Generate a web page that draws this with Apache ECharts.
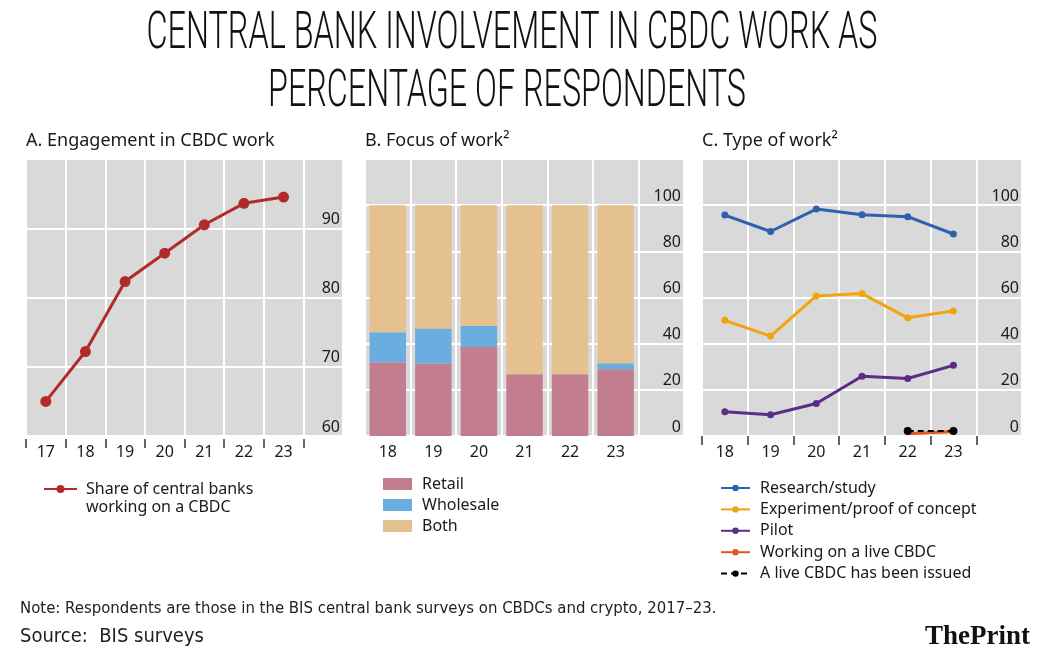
<!DOCTYPE html>
<html>
<head>
<meta charset="utf-8">
<script src="https://cdn.jsdelivr.net/npm/echarts@6/dist/echarts.min.js"></script>
<style>html,body{margin:0;padding:0;background:#fff;}#c{width:1046px;height:667px;}</style>
</head>
<body>
<div id="c"></div>
<script>
// ---- data ----
const titleLines = ['CENTRAL BANK INVOLVEMENT IN CBDC WORK AS', 'PERCENTAGE OF RESPONDENTS'];
const panelTitles = ['A. Engagement in CBDC work', 'B. Focus of work\u00b2', 'C. Type of work\u00b2'];
const yearsA = ['17', '18', '19', '20', '21', '22', '23'];
const engagement = [65, 72.2, 82.3, 86.4, 90.5, 93.6, 94.5];
const yearsBC = ['18', '19', '20', '21', '22', '23'];
const retail = [32, 31.4, 38.6, 26.8, 26.8, 28.9];
const wholesale = [13, 15.2, 9.2, 0, 0, 2.6];
const both = [55, 53.4, 52.2, 73.2, 73.2, 68.5];
const research = [95.7, 88.6, 98.3, 95.8, 95.0, 87.5];
const experiment = [50.1, 43.3, 60.7, 61.7, 51.2, 54.2];
const pilot = [10.5, 9.2, 14.1, 25.9, 24.9, 30.6];
const workingLive = [null, null, null, null, 1.0, 2.0];
const liveIssued = [null, null, null, null, 2.2, 2.2];
const noteText = 'Note: Respondents are those in the BIS central bank surveys on CBDCs and crypto, 2017\u201323.';
const sourceText = 'Source:  BIS surveys';

// ---- style ----
const GREY = '#d9d9d9';
const TXT = '#1a1a1a';
const FONT = '"Noto Sans", "Open Sans", sans-serif';
const NARROW = '"Liberation Sans Narrow", "DejaVu Sans Condensed", sans-serif';

function fitScale(text, font, target) {
  const ctx = document.createElement('canvas').getContext('2d');
  ctx.font = font;
  return target / ctx.measureText(text).width;
}
const titleFont = '300 52px Roboto';
const tScale1 = fitScale(titleLines[0], titleFont, 731);
const tScale2 = fitScale(titleLines[1], titleFont, 478);

const bandA = 39.625, bandB = 45.57, bandC = 45.714;
const gTop = 159, gHeight = 277;

function bgGrid(left, width) {
  return { left: left, top: gTop, width: width, height: gHeight, show: true, backgroundColor: GREY, borderWidth: 0 };
}
function plainGrid(left, width) {
  return { left: left, top: gTop, width: width, height: gHeight, show: false };
}
const whiteSplit = { show: true, lineStyle: { color: '#ffffff', width: 2 } };

function valueAxis(gridIndex, min, max, interval, showLabels) {
  return {
    type: 'value', gridIndex: gridIndex, min: min, max: max, interval: interval,
    position: 'right',
    axisLine: { show: false }, axisTick: { show: false },
    splitLine: showLabels ? whiteSplit : { show: false },
    axisLabel: showLabels ? {
      show: true, inside: true, margin: 3, verticalAlign: 'bottom', padding: [0, 0, 1, 0],
      fontSize: 16, fontFamily: FONT, color: TXT,
      formatter: function (v) { return v >= max ? '' : String(v); }
    } : { show: false }
  };
}

const option = {
  animation: false,
  backgroundColor: '#ffffff',
  grid: [
    bgGrid(26, 8 * bandA),      // 0 A
    plainGrid(26, 7 * bandA),   // 1 A ticks
    bgGrid(365, 7 * bandB),     // 2 B
    bgGrid(702, 7 * bandC),     // 3 C
    plainGrid(702, 6 * bandC)   // 4 C ticks
  ],
  xAxis: [
    { type: 'category', gridIndex: 0, data: yearsA.concat(['']), axisLine: { show: false }, axisTick: { show: false }, axisLabel: { show: false }, splitLine: whiteSplit },
    { type: 'category', gridIndex: 1, data: yearsA, offset: 3, axisLine: { show: false },
      axisTick: { show: true, length: 9, lineStyle: { color: '#333', width: 1.5 } },
      axisLabel: { show: true, margin: 5, fontSize: 16, fontFamily: FONT, color: TXT }, splitLine: { show: false } },
    { type: 'category', gridIndex: 2, data: yearsBC.concat(['']), axisLine: { show: false }, axisTick: { show: false },
      axisLabel: { show: true, margin: 8, fontSize: 16, fontFamily: FONT, color: TXT }, splitLine: whiteSplit },
    { type: 'category', gridIndex: 3, data: yearsBC.concat(['']), axisLine: { show: false }, axisTick: { show: false }, axisLabel: { show: false }, splitLine: whiteSplit },
    { type: 'category', gridIndex: 4, data: yearsBC, offset: 3, axisLine: { show: false },
      axisTick: { show: true, length: 9, lineStyle: { color: '#333', width: 1.5 } },
      axisLabel: { show: true, margin: 5, fontSize: 16, fontFamily: FONT, color: TXT }, splitLine: { show: false } }
  ],
  yAxis: [
    valueAxis(0, 60, 100, 10, true),
    valueAxis(1, 60, 100, 10, false),
    valueAxis(2, 0, 120, 20, true),
    valueAxis(3, 0, 120, 20, true),
    valueAxis(4, 0, 120, 20, false)
  ],
  legend: [
    { orient: 'vertical', left: 43, top: 462, padding: 0, itemWidth: 33, itemHeight: 10,
      data: ['Share of central banks working on a CBDC'],
      formatter: function () { return '\nShare of central banks\nworking on a CBDC'; },
      textStyle: { fontSize: 16, fontFamily: FONT, color: TXT, lineHeight: 18, padding: [0, 0, 0, 4] } },
    { orient: 'vertical', left: 383, top: 474, padding: 0, itemWidth: 29, itemHeight: 12, itemGap: 1, icon: 'rect',
      data: ['Retail', 'Wholesale', 'Both'],
      textStyle: { fontSize: 16, fontFamily: FONT, color: TXT, lineHeight: 20, padding: [0, 0, 0, 5] } },
    { orient: 'vertical', left: 720, top: 478, padding: 0, itemWidth: 29, itemHeight: 8, itemGap: 1.4,
      data: ['Research/study', 'Experiment/proof of concept', 'Pilot', 'Working on a live CBDC', 'A live CBDC has been issued'],
      textStyle: { fontSize: 16, fontFamily: FONT, color: TXT, lineHeight: 20, padding: [0, 0, 0, 5] } }
  ],
  series: [
    { name: 'Share of central banks working on a CBDC', type: 'line', xAxisIndex: 0, yAxisIndex: 0, data: engagement,
      symbol: 'circle', symbolSize: 11, lineStyle: { color: '#b22b2b', width: 3 }, itemStyle: { color: '#b22b2b' } },
    { name: 'Retail', type: 'bar', stack: 'b', xAxisIndex: 2, yAxisIndex: 2, data: retail, barCategoryGap: '20%', itemStyle: { color: '#c27d8e' } },
    { name: 'Wholesale', type: 'bar', stack: 'b', xAxisIndex: 2, yAxisIndex: 2, data: wholesale, barCategoryGap: '20%', itemStyle: { color: '#6aaee0' } },
    { name: 'Both', type: 'bar', stack: 'b', xAxisIndex: 2, yAxisIndex: 2, data: both, barCategoryGap: '20%', itemStyle: { color: '#e4c18f' } },
    { name: 'Research/study', type: 'line', xAxisIndex: 3, yAxisIndex: 3, data: research,
      symbol: 'circle', symbolSize: 7, lineStyle: { color: '#2c62ad', width: 3 }, itemStyle: { color: '#2c62ad' } },
    { name: 'Experiment/proof of concept', type: 'line', xAxisIndex: 3, yAxisIndex: 3, data: experiment,
      symbol: 'circle', symbolSize: 7, lineStyle: { color: '#f2a40f', width: 3 }, itemStyle: { color: '#f2a40f' } },
    { name: 'Pilot', type: 'line', xAxisIndex: 3, yAxisIndex: 3, data: pilot,
      symbol: 'circle', symbolSize: 7, lineStyle: { color: '#5c2d87', width: 3 }, itemStyle: { color: '#5c2d87' } },
    { name: 'Working on a live CBDC', type: 'line', xAxisIndex: 3, yAxisIndex: 3, data: workingLive, showSymbol: false,
      symbol: 'circle', symbolSize: 7, lineStyle: { color: '#e0581c', width: 3 }, itemStyle: { color: '#e0581c' } },
    { name: 'A live CBDC has been issued', type: 'line', xAxisIndex: 3, yAxisIndex: 3, data: liveIssued, z: 5,
      symbol: 'circle', symbolSize: 8, lineStyle: { color: '#000000', width: 2, type: [6, 4] }, itemStyle: { color: '#000000' } }
  ],
  graphic: [
    { type: 'text', x: 512, y: 35, scaleX: tScale1, style: { text: titleLines[0], font: titleFont, fill: '#111', textAlign: 'center', textVerticalAlign: 'middle' } },
    { type: 'text', x: 507, y: 93, scaleX: tScale2, style: { text: titleLines[1], font: titleFont, fill: '#111', textAlign: 'center', textVerticalAlign: 'middle' } },
    { type: 'text', left: 26, top: 132, style: { text: panelTitles[0], fontSize: 18, fontFamily: FONT, fill: TXT } },
    { type: 'text', left: 365, top: 132, style: { text: panelTitles[1], fontSize: 18, fontFamily: FONT, fill: TXT } },
    { type: 'text', left: 702, top: 132, style: { text: panelTitles[2], fontSize: 18, fontFamily: FONT, fill: TXT } },
    { type: 'text', x: 20, y: 609, style: { text: noteText, fontSize: 16.6, fontFamily: NARROW, fill: '#222', textVerticalAlign: 'middle' } },
    { type: 'text', x: 20, y: 637, style: { text: sourceText, fontSize: 20, fontFamily: NARROW, fill: '#222', textVerticalAlign: 'middle' } },
    { type: 'text', x: 1030, y: 637, style: { text: '{a|The}{b|Print}', textAlign: 'right', textVerticalAlign: 'middle',
      rich: { a: { fontSize: 27, fontFamily: '"Liberation Serif", serif', fontWeight: 'bold', fill: '#111' },
              b: { fontSize: 27, fontFamily: '"Liberation Serif", serif', fontWeight: 'bold', fill: '#111' } } } }
  ]
};
const chart = echarts.init(document.getElementById('c'), null, { renderer: 'canvas' });
chart.setOption(option);
</script>
</body>
</html>
